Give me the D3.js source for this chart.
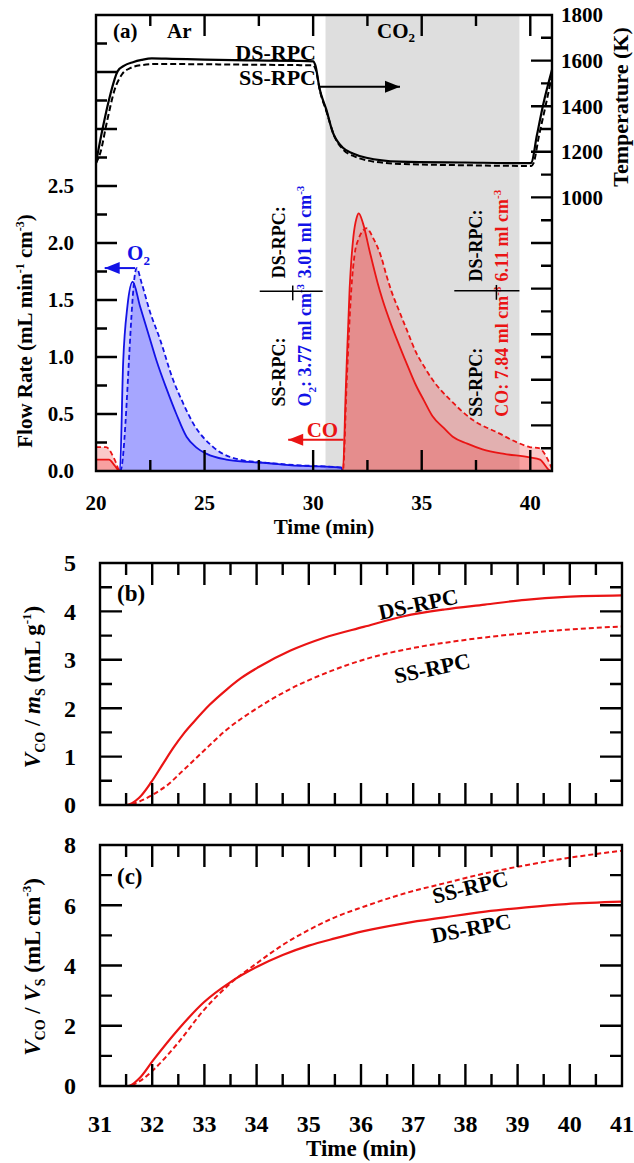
<!DOCTYPE html>
<html>
<head>
<meta charset="utf-8">
<script src="https://cdn.jsdelivr.net/npm/d3@7"></script>
<style>
  body { margin: 0; background: #fff; }
  svg text { font-family: "Liberation Serif", "Times New Roman", serif; font-weight: bold; }
</style>
</head>
<body>
<svg id="chart" width="634" height="1163"></svg>
<script>
// ---------- Panel (a): temperature (right axis, K) ----------
const tempTimeDS = [20, 20.3, 20.64, 21.0, 21.3, 21.7, 22.1, 22.57, 23.5, 25, 27, 29.4, 30.0, 30.1, 30.3, 30.6, 30.91, 31.37, 31.83, 32.45, 33.98, 37.0, 39.95, 40.05, 40.3, 40.6, 41.0];
const tempDS     = [1152, 1300, 1444, 1554, 1578, 1593, 1603, 1610, 1608, 1604, 1601, 1599, 1597, 1580, 1475, 1387, 1284, 1218, 1193, 1174, 1157, 1153, 1150, 1152, 1270, 1410, 1560];
const tempTimeSS = [20, 20.2, 20.5, 20.85, 21.2, 21.6, 22.1, 22.8, 25, 27, 29.4, 30.0, 30.12, 30.32, 30.62, 30.95, 31.4, 31.9, 32.5, 34.0, 37.0, 40.05, 40.15, 40.4, 40.7, 41.0];
const tempSS     = [1150, 1196, 1330, 1470, 1540, 1568, 1580, 1585, 1584, 1582, 1580, 1579, 1560, 1465, 1375, 1275, 1208, 1180, 1162, 1147, 1141, 1138, 1150, 1270, 1400, 1535];

// ---------- Panel (a): O2 flow (left axis) ----------
const o2TimeDS = [20, 21.1, 21.25, 21.45, 21.69, 22.02, 22.48, 22.8, 23.25, 23.7, 24.17, 24.6, 25.1, 26, 27, 27.85, 29, 30.3, 31.3, 31.35];
const o2DS     = [0, 0, 0.95, 1.45, 1.66, 1.45, 1.16, 0.96, 0.72, 0.50, 0.30, 0.21, 0.15, 0.10, 0.08, 0.07, 0.05, 0.04, 0.03, 0];
const o2TimeSS = [20, 21.12, 21.87, 22.1, 22.48, 22.94, 23.55, 24.0, 24.47, 25.4, 26.6, 28, 29.4, 30.5, 31.3, 31.35];
const o2SS     = [0, 0, 1.78, 1.65, 1.40, 1.16, 0.80, 0.60, 0.42, 0.21, 0.10, 0.07, 0.05, 0.04, 0.03, 0];

// ---------- Panel (a): CO flow (left axis) ----------
const coTimeDS = [20, 20.6, 20.85, 21.1, 31.37, 31.5, 31.68, 31.85, 32.0, 32.1, 32.3, 32.6, 32.97, 33.2, 33.6, 33.97, 34.4, 34.74, 35.1, 35.5, 36.0, 36.43, 37.1, 37.8, 38.8, 39.97, 40.45, 40.95, 41];
const coDS     = [0.10, 0.10, 0.05, 0, 0, 0.7, 1.6, 2.05, 2.22, 2.26, 2.17, 1.93, 1.65, 1.50, 1.28, 1.10, 0.90, 0.75, 0.62, 0.48, 0.38, 0.30, 0.24, 0.19, 0.15, 0.12, 0.10, 0, 0];
const coTimeSS = [20, 20.46, 20.87, 21.1, 31.37, 31.55, 31.76, 31.91, 32.1, 32.3, 32.44, 32.8, 33.13, 33.37, 33.6, 33.97, 34.35, 34.74, 35.1, 35.5, 36.28, 37.34, 38.57, 39.4, 39.97, 40.4, 41.0];
const coSS     = [0.21, 0.21, 0.095, 0, 0, 0.8, 1.6, 1.9, 2.04, 2.11, 2.13, 2.03, 1.88, 1.72, 1.58, 1.40, 1.22, 1.04, 0.92, 0.80, 0.63, 0.45, 0.33, 0.25, 0.21, 0.20, 0.02];

// CO2 (shaded) period
const co2Period = [30.57, 39.5];

// ---------- Panel (b): V_CO / m_S ----------
const bTimeDS = [31, 31.5, 31.75, 31.98, 32.2, 32.41, 32.6, 32.8, 33.1, 33.42, 33.7, 34.04, 34.65, 35.28, 36.05, 36.82, 37.6, 38.37, 39.15, 39.92, 41];
const bDS     = [0, 0, 0.15, 0.47, 0.84, 1.19, 1.47, 1.72, 2.07, 2.38, 2.62, 2.85, 3.19, 3.45, 3.68, 3.90, 4.04, 4.14, 4.24, 4.30, 4.33];
const bTimeSS = [31, 31.5, 31.75, 32.02, 32.3, 32.56, 32.95, 33.42, 34.04, 34.65, 35.43, 36.2, 36.98, 37.99, 39.15, 39.92, 41];
const bSS     = [0, 0, 0.07, 0.22, 0.42, 0.68, 1.08, 1.55, 2.02, 2.40, 2.77, 3.05, 3.24, 3.41, 3.55, 3.62, 3.69];

// ---------- Panel (c): V_CO / V_S ----------
const cTime = [31, 31.54, 31.75, 32.02, 32.49, 32.99, 33.5, 34.0, 34.5, 35.0, 35.5, 36.05, 36.83, 37.6, 38.38, 39.16, 39.93, 41];
const cDS   = [0, 0, 0.25, 0.86, 1.86, 2.78, 3.45, 3.95, 4.35, 4.66, 4.90, 5.14, 5.40, 5.60, 5.79, 5.93, 6.04, 6.12];
const cSS   = [0, 0, 0.15, 0.53, 1.42, 2.52, 3.41, 4.07, 4.68, 5.18, 5.60, 5.95, 6.39, 6.73, 7.06, 7.33, 7.56, 7.81];

// tick values
const aFlowMajor = [0, 0.5, 1, 1.5, 2, 2.5, 3, 3.5, 4];
const aFlowMinor = [0.25, 0.75, 1.25, 1.75, 2.25, 2.75, 3.25, 3.75];
const aTempMajor = [-200, 0, 200, 400, 600, 800, 1000, 1200, 1400, 1600, 1800];
const aTempMinor = [-100, 100, 300, 500, 700, 900, 1100, 1300, 1500, 1700];
const aTimeMajor = [20, 25, 30, 35, 40];
const aTimeMinor = [22.5, 27.5, 32.5, 37.5];
const bcTimeMajor = [31, 32, 33, 34, 35, 36, 37, 38, 39, 40, 41];
const bcTimeMinor = [31.5, 32.5, 33.5, 34.5, 35.5, 36.5, 37.5, 38.5, 39.5, 40.5];

const BLUE = '#1212e6', RED = '#ea1414';
const svg = d3.select('#chart');
const zip = (t, v) => t.map((d, i) => [d, v[i]]);

// Scales
const xA = d3.scaleLinear().domain([20, 41]).range([96, 552]);
const yA = d3.scaleLinear().domain([0, 4]).range([471, 15]);
const yT = d3.scaleLinear().domain([-200, 1800]).range([471, 15]);
const xB = d3.scaleLinear().domain([31, 41]).range([100, 622]);
const yB = d3.scaleLinear().domain([0, 5]).range([805, 563]);
const yC = d3.scaleLinear().domain([0, 8]).range([1086, 845]);

// tick marks become sub-paths of the frame path of each panel
function tickPath(orient, scale, pos, values, len) {
  const horiz = orient === 'bottom' || orient === 'top';
  const dir = (orient === 'bottom' || orient === 'right') ? -1 : 1;
  return values.map(v => {
    const p = scale(v);
    return horiz ? `M${p},${pos}L${p},${pos + dir * len}` : `M${pos},${p}L${pos + dir * len},${p}`;
  }).join('');
}
function frame(x0, x1, y0, y1, tickD) {
  svg.append('path')
    .attr('d', `M${x0},${y0}L${x1},${y0}L${x1},${y1}L${x0},${y1}Z` + tickD)
    .attr('fill', 'none').attr('stroke', '#000').attr('stroke-width', 2.4);
}
function drawLabels(orient, scale, pos, values, fmt, off, size) {
  const g = svg.append('g').attr('font-size', size);
  g.selectAll('text').data(values).join('text')
    .attr('x', d => orient === 'bottom' ? scale(d) : orient === 'left' ? pos - off : pos + off)
    .attr('y', d => orient === 'bottom' ? pos + off : scale(d))
    .attr('dy', orient === 'bottom' ? '0' : '0.35em')
    .attr('text-anchor', orient === 'bottom' ? 'middle' : orient === 'left' ? 'end' : 'start')
    .text(fmt);
}

// ================= Panel (a) =================
svg.append('clipPath').attr('id', 'clipA').append('rect')
  .attr('x', xA(20)).attr('y', yA(4)).attr('width', xA(41) - xA(20)).attr('height', yA(0) - yA(4));

svg.append('rect')
  .attr('x', xA(co2Period[0])).attr('y', yA(4))
  .attr('width', xA(co2Period[1]) - xA(co2Period[0])).attr('height', yA(0) - yA(4))
  .attr('fill', '#dedede');

const plotA = svg.append('g').attr('clip-path', 'url(#clipA)');
const areaA = d3.area().x(d => xA(d[0])).y0(yA(0)).y1(d => yA(d[1])).curve(d3.curveMonotoneX);
const lineA = d3.line().x(d => xA(d[0])).y(d => yA(d[1])).curve(d3.curveMonotoneX);
const lineT = d3.line().x(d => xA(d[0])).y(d => yT(d[1])).curve(d3.curveMonotoneX);

[[o2TimeSS, o2SS, 'rgba(40,40,255,0.23)'], [o2TimeDS, o2DS, 'rgba(40,40,255,0.23)'],
 [coTimeSS, coSS, 'rgba(240,30,30,0.24)'], [coTimeDS, coDS, 'rgba(240,30,30,0.24)']].forEach(([t, v, c]) => {
  plotA.append('path').datum(zip(t, v)).attr('d', areaA).attr('fill', c);
});
[[o2TimeDS, o2DS, BLUE, null], [o2TimeSS, o2SS, BLUE, '5,3'],
 [coTimeDS, coDS, RED, null], [coTimeSS, coSS, RED, '5,3']].forEach(([t, v, c, dash]) => {
  plotA.append('path').datum(zip(t, v)).attr('d', lineA).attr('fill', 'none')
    .attr('stroke', c).attr('stroke-width', 1.8).attr('stroke-dasharray', dash);
});
plotA.append('path').datum(zip(tempTimeDS, tempDS)).attr('d', lineT).attr('fill', 'none')
  .attr('stroke', '#000').attr('stroke-width', 2.2);
plotA.append('path').datum(zip(tempTimeSS, tempSS)).attr('d', lineT).attr('fill', 'none')
  .attr('stroke', '#000').attr('stroke-width', 2).attr('stroke-dasharray', '6,3');

// arrows
function arrow(x1, x2, y, color) {
  svg.append('line').attr('x1', x1).attr('x2', x2).attr('y1', y).attr('y2', y)
    .attr('stroke', color).attr('stroke-width', 2);
  const dir = Math.sign(x2 - x1), L = 15, H = 6;
  svg.append('path').attr('d', `M${x2},${y}L${x2 - dir * L},${y - H}L${x2 - dir * L},${y + H}Z`).attr('fill', color);
}
arrow(xA(30.3), xA(34.0), yT(1485), '#000');
arrow(xA(21.8), xA(20.4), yA(1.78), BLUE);
arrow(xA(31.4), xA(28.85), yA(0.275), RED);

// labels in panel (a)
const txt = (x, y, s, size, color, anchor) => svg.append('text').attr('x', x).attr('y', y)
  .attr('font-size', size).attr('fill', color || '#000').attr('text-anchor', anchor || 'start').text(s);
txt(113, 38, '(a)', 21);
txt(167, 38, 'Ar', 21);
const co2 = txt(377, 38, 'CO', 21);
co2.append('tspan').attr('font-size', 13).attr('dy', 4).text('2');
txt(316, 60, 'DS-RPC', 22, '#000', 'end');
txt(316, 85, 'SS-RPC', 22, '#000', 'end');
const o2lab = txt(xA(21.43), yA(1.85), 'O', 21, BLUE);
o2lab.append('tspan').attr('font-size', 13).attr('dy', 5).text('2');
txt(xA(29.7), yA(0.30), 'CO', 21, RED);

// rotated yield annotations
function vtext(x, y, parts, color) {
  const t = svg.append('text').attr('transform', `translate(${x},${y}) rotate(-90)`)
    .attr('font-size', 18).attr('fill', color);
  parts.forEach(([s, dy, fs]) => t.append('tspan').attr('dy', dy).attr('font-size', fs || 18).text(s));
}
const unit = (v) => [[v + ' ml cm', 0], ['-3', -7, 11]];
vtext(xA(28.69), yA(1.69), [['DS-RPC:', 0]], '#000');
vtext(xA(29.89), yA(1.69), unit('3.01'), BLUE);
vtext(xA(28.69), yA(0.565), [['SS-RPC:', 0]], '#000');
vtext(xA(29.92), yA(0.565), [['O', 0], ['2', 5, 11], [': 3.77 ml cm', -5], ['-3', -7, 11]], BLUE);
vtext(xA(37.78), yA(1.663), [['DS-RPC:', 0]], '#000');
vtext(xA(38.97), yA(1.663), unit('6.11'), RED);
vtext(xA(37.78), yA(0.476), [['SS-RPC:', 0]], '#000');
vtext(xA(38.97), yA(0.476), [['CO: 7.84 ml cm', 0], ['-3', -7, 11]], RED);

function sep(t1, t2, tv, f) {
  svg.append('line').attr('x1', xA(t1)).attr('x2', xA(t2)).attr('y1', yA(f)).attr('y2', yA(f))
    .attr('stroke', '#000').attr('stroke-width', 1.5);
  svg.append('line').attr('x1', xA(tv)).attr('x2', xA(tv)).attr('y1', yA(f + 0.05)).attr('y2', yA(f - 0.08))
    .attr('stroke', '#000').attr('stroke-width', 1.5);
}
sep(27.54, 30.44, 29.06, 1.577);
sep(36.5, 39.5, 38.44, 1.582);

// frame + ticks panel (a)
frame(xA(20), xA(41), yA(4), yA(0),
  tickPath('bottom', xA, yA(0), aTimeMajor, 21) + tickPath('bottom', xA, yA(0), aTimeMinor, 11) +
  tickPath('top', xA, yA(4), aTimeMajor, 21) + tickPath('top', xA, yA(4), aTimeMinor, 11) +
  tickPath('left', yA, xA(20), aFlowMajor, 21) + tickPath('left', yA, xA(20), aFlowMinor, 11) +
  tickPath('right', yT, xA(41), aTempMajor, 21) + tickPath('right', yT, xA(41), aTempMinor, 11));
drawLabels('bottom', xA, yA(0), aTimeMajor, d3.format('d'), 39, 21);
drawLabels('left', yA, xA(20), aFlowMajor.filter(d => d <= 2.5), d3.format('.1f'), 22, 21);
drawLabels('right', yT, xA(41), aTempMajor.filter(d => d >= 1000), d3.format('d'), 9, 21);

txt((xA(20) + xA(41)) / 2, 534, 'Time (min)', 21, '#000', 'middle');
const fl = svg.append('text').attr('transform', 'translate(32,331) rotate(-90)')
  .attr('text-anchor', 'middle').attr('font-size', 21);
fl.append('tspan').text('Flow Rate (mL min');
fl.append('tspan').attr('dy', -8).attr('font-size', 12).text('-1');
fl.append('tspan').attr('dy', 8).text(' cm');
fl.append('tspan').attr('dy', -8).attr('font-size', 12).text('-3');
fl.append('tspan').attr('dy', 8).text(')');
svg.append('text').attr('transform', 'translate(628,107) rotate(-90)')
  .attr('text-anchor', 'middle').attr('font-size', 22).text('Temperature (K)');

// ================= Panels (b) and (c) =================
function cumPanel(yS, ymax, dsT, ds, ssT, ss, majorY, minorY, label, labelY, showX) {
  const line = d3.line().x(d => xB(d[0])).y(d => yS(d[1])).curve(d3.curveMonotoneX);
  svg.append('path').datum(zip(dsT, ds)).attr('d', line).attr('fill', 'none')
    .attr('stroke', RED).attr('stroke-width', 2.2);
  svg.append('path').datum(zip(ssT, ss)).attr('d', line).attr('fill', 'none')
    .attr('stroke', RED).attr('stroke-width', 2).attr('stroke-dasharray', '5,3');
  frame(xB(31), xB(41), yS(ymax), yS(0),
    tickPath('bottom', xB, yS(0), bcTimeMajor, 22) + tickPath('bottom', xB, yS(0), bcTimeMinor, 12) +
    tickPath('top', xB, yS(ymax), bcTimeMajor, 22) + tickPath('top', xB, yS(ymax), bcTimeMinor, 12) +
    tickPath('left', yS, xB(31), majorY, 22) + tickPath('left', yS, xB(31), minorY, 12) +
    tickPath('right', yS, xB(41), majorY, 22) + tickPath('right', yS, xB(41), minorY, 12));
  drawLabels('left', yS, xB(31), majorY, d3.format('d'), 24, 24);
  if (showX) drawLabels('bottom', xB, yS(0), bcTimeMajor, d3.format('d'), 46, 24);
  txt(117, labelY, label, 23);
}
cumPanel(yB, 5, bTimeDS, bDS, bTimeSS, bSS, [0, 1, 2, 3, 4, 5], [0.5, 1.5, 2.5, 3.5, 4.5], '(b)', 601, false);
cumPanel(yC, 8, cTime, cDS, cTime, cSS, [0, 2, 4, 6, 8], [1, 3, 5, 7], '(c)', 884, true);

function slanted(x, y, angle, s) {
  svg.append('text').attr('transform', `translate(${x},${y}) rotate(${angle})`)
    .attr('text-anchor', 'middle').attr('dy', '0.35em').attr('font-size', 22).text(s);
}
slanted(418, 604, -12, 'DS-RPC');
slanted(432, 668, -12, 'SS-RPC');
slanted(470, 887, -14, 'SS-RPC');
slanted(471, 928, -11, 'DS-RPC');

function vLabel(cy, second, unitTxt, sup) {
  const t = svg.append('text').attr('transform', `translate(40,${cy}) rotate(-90)`)
    .attr('text-anchor', 'middle').attr('font-size', 23);
  t.append('tspan').attr('font-style', 'italic').text('V');
  t.append('tspan').attr('font-size', 14).attr('dy', 5).text('CO');
  t.append('tspan').attr('dy', -5).text(' / ');
  t.append('tspan').attr('font-style', 'italic').text(second);
  t.append('tspan').attr('font-size', 14).attr('dy', 5).text('S');
  t.append('tspan').attr('dy', -5).text(' (' + unitTxt);
  t.append('tspan').attr('font-size', 13).attr('dy', -9).text(sup);
  t.append('tspan').attr('dy', 9).text(')');
}
vLabel(687, 'm', 'mL g', '-1');
vLabel(967, 'V', 'mL cm', '-3');
txt((xB(31) + xB(41)) / 2, 1156, 'Time (min)', 23, '#000', 'middle');
</script>
</body>
</html>
